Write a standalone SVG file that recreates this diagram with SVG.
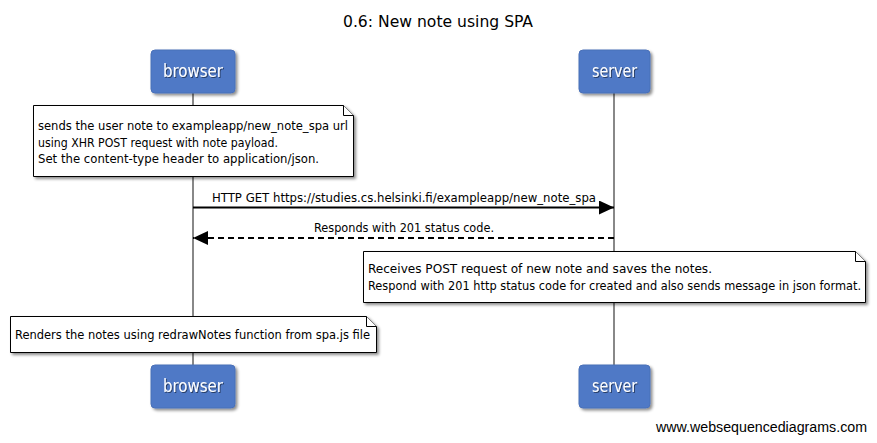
<svg xmlns="http://www.w3.org/2000/svg" width="877" height="443" viewBox="0 0 877 443">
<defs>
<marker id="ah" markerWidth="16" markerHeight="14" refX="15" refY="7" orient="auto" markerUnits="userSpaceOnUse">
<path d="M0,0 L15,7 L0,14 Z" fill="#000"/>
</marker>
<filter id="sh" x="-10%" y="-10%" width="130%" height="140%">
<feDropShadow dx="2" dy="2" stdDeviation="1.5" flood-color="#000" flood-opacity="0.45"/>
</filter>
<filter id="tsh" x="-10%" y="-20%" width="130%" height="150%">
<feDropShadow dx="1" dy="1" stdDeviation="0.6" flood-color="#000" flood-opacity="0.5"/>
</filter>
</defs>
<style>
text{font-family:"DejaVu Sans Condensed","DejaVu Sans",sans-serif;fill:#000}
.t{font-size:12.5px}
.actor rect{fill:#4f79c6;stroke:#4a70b8;stroke-width:1}
.actor text{fill:#fff;font-size:17px}
.note path{fill:#fff;stroke:#000;stroke-width:1}
.life{stroke:#888;stroke-width:2}
.wm{font-family:"Liberation Sans",Arial,sans-serif;font-size:14px}
</style>
<rect width="877" height="443" fill="#fff"/>
<text x="438" y="27" text-anchor="middle" font-size="16" textLength="190" lengthAdjust="spacingAndGlyphs">0.6: New note using SPA</text>
<g id="lifelines">
<line class="life" x1="193" y1="93" x2="193" y2="365"/>
<line class="life" x1="614" y1="93" x2="614" y2="365"/>
</g>
<g id="browser" class="actor">
<rect x="151" y="50" width="84" height="43" rx="4" filter="url(#sh)"/>
<text x="193" y="77" text-anchor="middle" textLength="60" lengthAdjust="spacingAndGlyphs" filter="url(#tsh)">browser</text>
</g>
<g id="server" class="actor">
<rect x="579" y="50" width="71" height="43" rx="4" filter="url(#sh)"/>
<text x="614.5" y="77" text-anchor="middle" textLength="45" lengthAdjust="spacingAndGlyphs" filter="url(#tsh)">server</text>
</g>
<g id="browser-bottom" class="actor">
<rect x="151" y="365" width="84" height="43" rx="4" filter="url(#sh)"/>
<text x="193" y="392" text-anchor="middle" textLength="60" lengthAdjust="spacingAndGlyphs" filter="url(#tsh)">browser</text>
</g>
<g id="server-bottom" class="actor">
<rect x="579" y="365" width="71" height="43" rx="4" filter="url(#sh)"/>
<text x="614.5" y="392" text-anchor="middle" textLength="45" lengthAdjust="spacingAndGlyphs" filter="url(#tsh)">server</text>
</g>
<g id="note1" class="note">
<path d="M33.5,105.5 H343.5 L353.5,115.5 V176.5 H33.5 Z" filter="url(#sh)"/>
<path d="M343.5,105.5 V115.5 H353.5" fill="none"/>
<text class="t" x="38" y="130" textLength="310" lengthAdjust="spacingAndGlyphs">sends the user note to exampleapp/new_note_spa url</text>
<text class="t" x="38" y="147" textLength="240" lengthAdjust="spacingAndGlyphs">using XHR POST request with note payload.</text>
<text class="t" x="38" y="163" textLength="281" lengthAdjust="spacingAndGlyphs">Set the content-type header to application/json.</text>
</g>
<g id="connectors">
<line x1="193" y1="207.5" x2="614" y2="207.5" stroke="#000" stroke-width="2" marker-end="url(#ah)"/>
<text class="t" x="212" y="202" textLength="384" lengthAdjust="spacingAndGlyphs">HTTP GET https://studies.cs.helsinki.fi/exampleapp/new_note_spa</text>
<line x1="614" y1="238" x2="193" y2="238" stroke="#000" stroke-width="2" stroke-dasharray="6,4" marker-end="url(#ah)"/>
<text class="t" x="314" y="232" textLength="180" lengthAdjust="spacingAndGlyphs">Responds with 201 status code.</text>
</g>
<g id="note2" class="note">
<path d="M363.5,251.5 H855.5 L865.5,261.5 V302.5 H363.5 Z" filter="url(#sh)"/>
<path d="M855.5,251.5 V261.5 H865.5" fill="none"/>
<text class="t" x="368" y="273" textLength="344" lengthAdjust="spacingAndGlyphs">Receives POST request of new note and saves the notes.</text>
<text class="t" x="368" y="290" textLength="493" lengthAdjust="spacingAndGlyphs">Respond with 201 http status code for created and also sends message in json format.</text>
</g>
<g id="note3" class="note">
<path d="M10.5,316.5 H366.5 L376.5,326.5 V352.5 H10.5 Z" filter="url(#sh)"/>
<path d="M366.5,316.5 V326.5 H376.5" fill="none"/>
<text class="t" x="15" y="339" textLength="355" lengthAdjust="spacingAndGlyphs">Renders the notes using redrawNotes function from spa.js file</text>
</g>
<text class="wm" x="656" y="432" textLength="211" lengthAdjust="spacingAndGlyphs">www.websequencediagrams.com</text>
</svg>
